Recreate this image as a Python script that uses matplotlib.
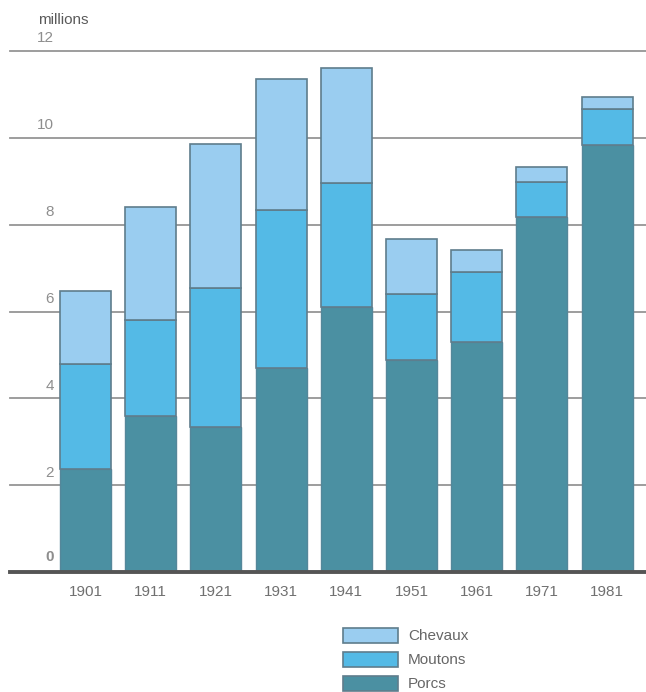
import matplotlib
matplotlib.use('Agg')
import matplotlib.pyplot as plt
import matplotlib.transforms as transforms
from matplotlib.patches import Rectangle

#livestock counts in millions, one entry per census year
years = ['1901', '1911', '1921', '1931', '1941', '1951', '1961', '1971', '1981']
porcs = [2.37, 3.59, 3.34, 4.70, 6.11, 4.88, 5.30, 8.18, 9.84]
moutons = [2.42, 2.22, 3.20, 3.64, 2.85, 1.53, 1.61, 0.81, 0.83]
chevaux = [1.68, 2.60, 3.32, 3.02, 2.65, 1.26, 0.51, 0.34, 0.27]
yticks = [0, 2, 4, 6, 8, 10, 12]

#colours for each series
colPorcs = '#4b90a2'
colMoutons = '#54bae6'
colChevaux = '#9acdf0'
colEdge = '#5f7d8c'

plt.rcParams['font.family'] = ['Liberation Sans', 'DejaVu Sans']

fig = plt.figure(figsize=(6.46, 6.92), dpi=100)
ax = fig.add_axes([10 / 646, 120 / 692, 636 / 646, 521 / 692])

#stack the bars from the bottom up
x = list(range(len(years)))
base2 = porcs
base3 = [p + m for p, m in zip(porcs, moutons)]
ax.bar(x, porcs, width=0.78, color=colPorcs, edgecolor='#55879a', linewidth=1.0, zorder=3)
ax.bar(x, moutons, width=0.78, bottom=base2, color=colMoutons, edgecolor=colEdge, linewidth=1.2, zorder=3)
ax.bar(x, chevaux, width=0.78, bottom=base3, color=colChevaux, edgecolor=colEdge, linewidth=1.2, zorder=3)

ax.set_xlim(-1.158, 8.597)
ax.set_ylim(0, 12)

#horizontal grid lines and heavier baseline
for t in yticks[1:]:
    ax.axhline(t, color='#959595', linewidth=1.3, zorder=1, clip_on=False)
ax.axhline(0, color='#555555', linewidth=2.8, zorder=4, clip_on=False)

#value labels sit just above each grid line on the left
trans = transforms.blended_transform_factory(fig.transFigure, ax.transData)
for t in yticks:
    off = 6 if t == 0 else 4
    ax.annotate(str(t), xy=(54 / 646, t), xycoords=trans, xytext=(0, off),
                textcoords='offset points', ha='right', va='bottom',
                fontsize=11, color='#8e8e8e', fontweight='bold' if t == 0 else 'normal')

fig.text(38 / 646, 1 - 20 / 692, 'millions', ha='left', va='center', fontsize=11, color='#5a5a5a')

#year labels under the bars
ax.set_xticks(x)
ax.set_xticklabels(years, fontsize=11, color='#707070')
ax.tick_params(axis='x', length=0, pad=9)
ax.set_yticks([])
for s in ax.spines.values():
    s.set_visible(False)

#legend boxes drawn by hand below the chart
entries = [('Chevaux', colChevaux), ('Moutons', colMoutons), ('Porcs', colPorcs)]
for i, (name, col) in enumerate(entries):
    top = 628 + i * 24
    fig.patches.append(Rectangle((343 / 646, 1 - (top + 15) / 692), 55 / 646, 15 / 692,
                                 transform=fig.transFigure, facecolor=col,
                                 edgecolor=colEdge, linewidth=1.2))
    fig.text(408 / 646, 1 - (top + 7.5) / 692, name, ha='left', va='center',
             fontsize=11, color='#666666')

plt.savefig('out.png', dpi=100, facecolor='white')
